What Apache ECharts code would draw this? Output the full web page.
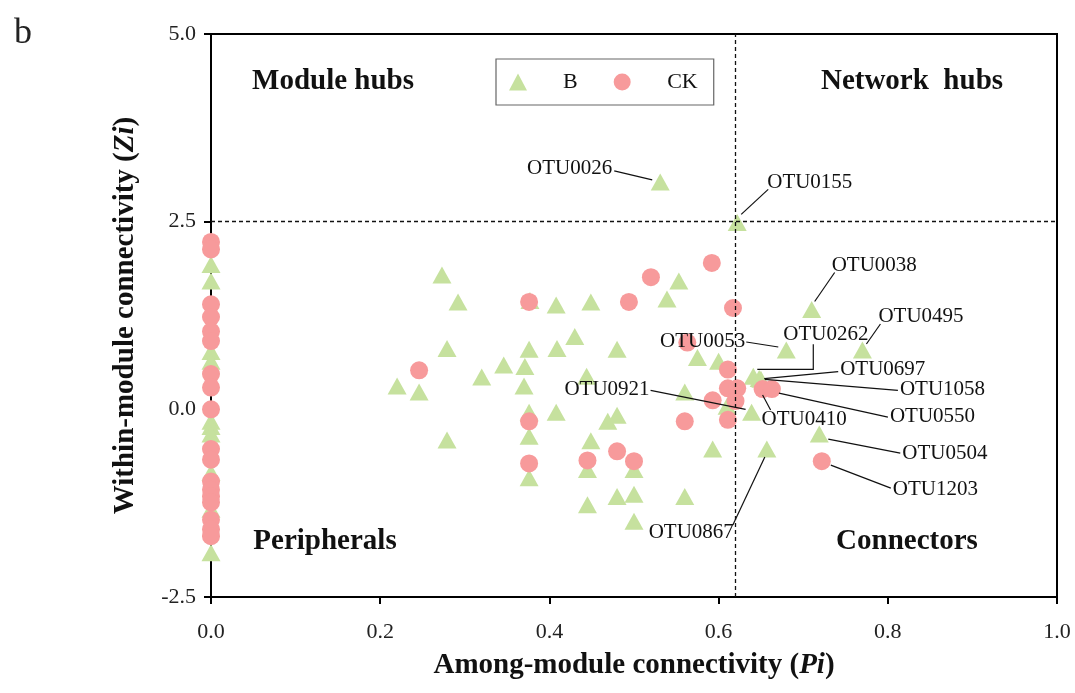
<!DOCTYPE html>
<html>
<head>
<meta charset="utf-8">
<script src="https://cdn.jsdelivr.net/npm/echarts@6/dist/echarts.min.js"></script>
<style>html,body{margin:0;padding:0;background:#fff}#c{width:1075px;height:693px}</style>
</head>
<body>
<div id="c"></div>
<script>
// ---- data ----
const xTicks = [0, 0.2, 0.4, 0.6, 0.8, 1.0];
const yTicks = [-2.5, 0, 2.5, 5.0];
const piThreshold = 0.62;
const ziThreshold = 2.5;

// Group B (triangles), unlabeled nodes
const bPi = [0,0,0,0,0,0,0,0,0,0,
  0.273,0.292,0.377,0.408,0.449,0.539,0.553,0.279,0.376,0.409,0.430,0.48,
  0.22,0.246,0.32,0.346,0.371,0.37,0.444,0.376,0.376,0.408,0.279,0.376,
  0.469,0.48,0.449,0.445,0.5,0.445,0.48,0.5,0.5,0.575,0.6,0.56,0.593,0.56,0.61];
const bZi = [1.93,1.71,0.77,0.64,-0.16,-0.23,-0.33,-0.84,-1.33,-1.91,
  1.79,1.43,1.45,1.39,1.43,1.47,1.71,0.81,0.80,0.81,0.97,0.80,
  0.31,0.23,0.43,0.59,0.57,0.31,0.44,-0.04,-0.36,-0.04,-0.41,-0.91,
  -0.16,-0.08,-0.42,-0.80,-0.80,-1.27,-1.16,-1.13,-1.49,0.69,0.64,0.23,-0.53,-1.16,0.04];

// Group CK (circles), unlabeled nodes
const ckPi = [0,0,0,0,0,0,0,0,0,0,0,0,0,0,0,0,0,0,
  0.376,0.494,0.52,0.592,0.617,0.246,0.376,0.376,0.445,0.48,0.5,0.563,
  0.611,0.611,0.622,0.593,0.62,0.56,0.611];
const ckZi = [2.23,2.13,1.40,1.23,1.04,0.91,0.47,0.29,0.0,-0.53,-0.67,-0.96,-1.07,-1.16,-1.24,-1.47,-1.60,-1.69,
  1.43,1.43,1.76,1.95,1.35,0.52,-0.16,-0.72,-0.68,-0.56,-0.69,0.89,
  0.53,0.28,0.28,0.12,0.11,-0.16,-0.14];

// Labeled nodes
const hubNames = ['OTU0026','OTU0155','OTU0038','OTU0495','OTU0053','OTU0262','OTU0697','OTU1058','OTU0921','OTU0410','OTU0550','OTU0504','OTU1203','OTU0867'];
const hubGroup = ['B','B','B','B','B','B','B','B','B','CK','CK','B','CK','B'];
const hubPi = [0.531,0.622,0.71,0.77,0.68,0.641,0.648,0.65,0.639,0.652,0.663,0.719,0.722,0.657];
const hubZi = [3.03,2.49,1.33,0.79,0.79,0.44,0.41,0.40,-0.04,0.27,0.27,-0.33,-0.69,-0.53];

const quadrantNames = ['Module hubs','Network  hubs','Peripherals','Connectors'];

// ---- layout (label offsets in px, not data) ----
const hubLayout = {
  OTU0026:{align:'right',dx:-48,dy:-13,line:[[-46,-11],[-8,-2]]},
  OTU0155:{align:'left',dx:30,dy:-40,line:[[31,-33],[4,-8]]},
  OTU0038:{align:'left',dx:20,dy:-44,line:[[23,-37],[3,-8]]},
  OTU0495:{align:'left',dx:16,dy:-34,line:[[18,-26],[4,-6]]},
  OTU0053:{align:'right',dx:-41,dy:-9,line:[[-40,-8],[-8,-3]]},
  OTU0262:{align:'left',dx:30,dy:-42,line:[[60,-32],[60,-7],[4,-7]]},
  OTU0697:{align:'left',dx:81,dy:-9,line:[[79,-7],[5,0]]},
  OTU1058:{align:'left',dx:139,dy:10,line:[[137,11],[4,0]]},
  OTU0921:{align:'right',dx:-102,dy:-23,line:[[-101,-22],[-6,-3]]},
  OTU0410:{align:'left',dx:-1,dy:30,line:[[8,21],[0,6]]},
  OTU0550:{align:'left',dx:118,dy:27,line:[[116,28],[7,4]]},
  OTU0504:{align:'left',dx:83,dy:19,line:[[81,19],[9,5]]},
  OTU1203:{align:'left',dx:71,dy:28,line:[[69,27],[9,4]]},
  OTU0867:{align:'right',dx:-33,dy:83,line:[[-34,76],[-2,8]]}
};

const SERIF = '"Liberation Serif","Times New Roman",serif';
const GREEN = '#C6E19E';
const PINK = '#F79A9B';

function zip(a,b){ return a.map((v,i)=>[v,b[i]]); }
const bData = zip(bPi,bZi);
const ckData = zip(ckPi,ckZi);
hubNames.forEach((n,i)=>{
  if(hubGroup[i]==='B') bData.push([hubPi[i],hubZi[i]]);
  else ckData.push([hubPi[i],hubZi[i]]);
});
const hubData = hubNames.map((n,i)=>[hubPi[i],hubZi[i],i]);

const chart = echarts.init(document.getElementById('c'));
const axisCommon = {
  axisLine:{show:true,onZero:false,lineStyle:{color:'#000',width:2}},
  axisTick:{show:true,inside:false,length:7,lineStyle:{color:'#000',width:2}},
  splitLine:{show:false},
  axisLabel:{color:'#222',fontFamily:SERIF,fontSize:22,formatter:v=>v.toFixed(1)}
};
chart.setOption({
  animation:false,
  backgroundColor:'#fff',
  grid:{left:211,right:18,top:34,bottom:96,show:true,borderColor:'#000',borderWidth:2,backgroundColor:'transparent'},
  legend:{
    left:496,top:59,
    orient:'horizontal',
    borderColor:'#666',borderWidth:1.2,
    padding:[12,16,12,13],
    itemGap:36,itemWidth:18,itemHeight:17,
    textStyle:{fontFamily:SERIF,fontSize:22,color:'#111',padding:[0,0,0,31]},
    data:[{name:'B',icon:'triangle'},{name:'CK',icon:'circle'}]
  },
  xAxis:Object.assign({}, axisCommon, {
    type:'value',min:xTicks[0],max:xTicks[xTicks.length-1],interval:0.2,
    name:'Among-module connectivity ({i|Pi})',nameLocation:'middle',nameGap:54,
    nameTextStyle:{fontFamily:SERIF,fontSize:29,fontWeight:'bold',color:'#111',
      rich:{i:{fontFamily:SERIF,fontSize:29,fontWeight:'bold',fontStyle:'italic',color:'#111'}}},
    axisLabel:Object.assign({},axisCommon.axisLabel,{margin:24})
  }),
  yAxis:Object.assign({}, axisCommon, {
    type:'value',min:yTicks[0],max:yTicks[yTicks.length-1],interval:2.5,
    name:'Within-module connectivity ({i|Zi})',nameLocation:'middle',nameGap:71,nameRotate:90,
    nameTextStyle:{fontFamily:SERIF,fontSize:29,fontWeight:'bold',color:'#111',
      rich:{i:{fontFamily:SERIF,fontSize:29,fontWeight:'bold',fontStyle:'italic',color:'#111'}}},
    axisLabel:Object.assign({},axisCommon.axisLabel,{margin:15})
  }),
  graphic:[
    {type:'text',left:14,top:16,style:{text:'b',font:'36px '+SERIF,fill:'#222'}},
    {type:'text',x:333,y:82,style:{text:quadrantNames[0],font:'bold 29px '+SERIF,fill:'#111',align:'center',verticalAlign:'middle'}},
    {type:'text',x:912,y:82,style:{text:quadrantNames[1],font:'bold 29px '+SERIF,fill:'#111',align:'center',verticalAlign:'middle'}},
    {type:'text',x:325,y:542,style:{text:quadrantNames[2],font:'bold 29px '+SERIF,fill:'#111',align:'center',verticalAlign:'middle'}},
    {type:'text',x:907,y:542,style:{text:quadrantNames[3],font:'bold 29px '+SERIF,fill:'#111',align:'center',verticalAlign:'middle'}}
  ],
  series:[
    {name:'B',type:'scatter',symbol:'triangle',symbolSize:[19,17],itemStyle:{color:GREEN,opacity:1},
     data:bData,z:2,
     markLine:{silent:true,symbol:'none',label:{show:false},
       lineStyle:{color:'#111',type:[4,3],width:1.3},
       data:[{xAxis:piThreshold},{yAxis:ziThreshold}]}},
    {name:'CK',type:'scatter',symbol:'circle',symbolSize:18,itemStyle:{color:PINK,opacity:1},data:ckData,z:3},
    {name:'labels',type:'custom',z:5,clip:false,data:hubData,silent:true,
     renderItem:function(params,api){
       const name = hubNames[api.value(2)];
       const L = hubLayout[name];
       const p = api.coord([api.value(0),api.value(1)]);
       const pts = L.line.map(d=>[p[0]+d[0],p[1]+d[1]]);
       return {type:'group',children:[
         {type:'polyline',shape:{points:pts},style:{stroke:'#111',lineWidth:1.2,fill:null}},
         {type:'text',x:p[0]+L.dx,y:p[1]+L.dy,style:{text:name,fill:'#111',fontFamily:SERIF,fontSize:21,align:L.align,verticalAlign:'middle'}}
       ]};
     }}
  ]
});
</script>
</body>
</html>
